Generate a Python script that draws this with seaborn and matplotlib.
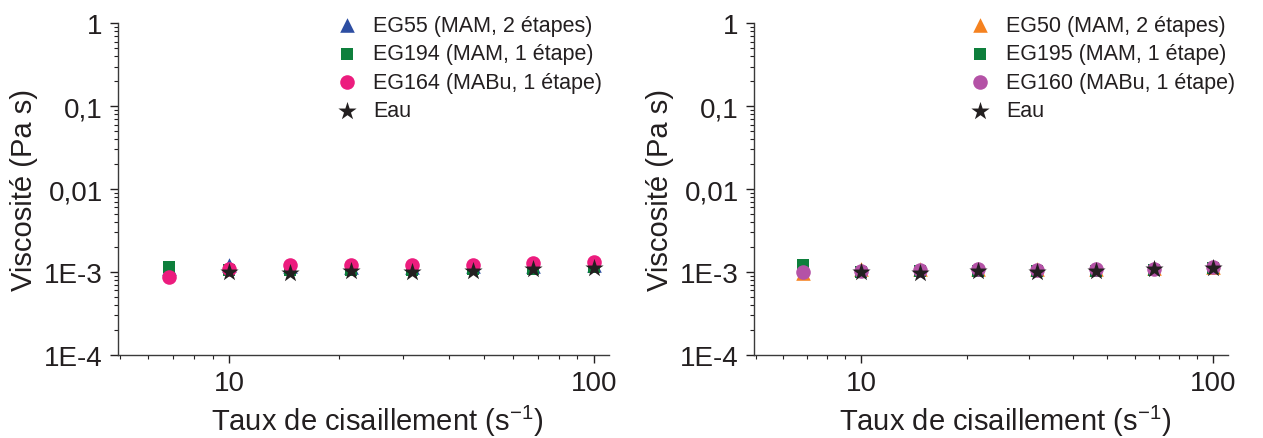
import numpy as np
import pandas as pd
import matplotlib
matplotlib.use("Agg")
import matplotlib.pyplot as plt
import matplotlib.ticker as mticker
import seaborn as sns

# shear rates (s^-1)
shear = [6.81, 10.0, 14.7, 21.5, 31.6, 46.4, 68.1, 100.0]
shear_water = [10.0, 14.7, 21.5, 31.6, 46.4, 68.1, 100.0]

# left panel viscosities (Pa s)
eg55 = [1.12e-3, 1.20e-3, 1.17e-3, 1.15e-3, 1.16e-3, 1.17e-3, 1.19e-3, 1.22e-3]
eg194 = [1.15e-3, 1.05e-3, 1.06e-3, 1.07e-3, 1.07e-3, 1.08e-3, 1.10e-3, 1.15e-3]
eg164 = [0.87e-3, 1.09e-3, 1.20e-3, 1.20e-3, 1.20e-3, 1.22e-3, 1.27e-3, 1.33e-3]
water_l = [1.00e-3, 0.97e-3, 1.03e-3, 1.00e-3, 1.04e-3, 1.08e-3, 1.13e-3]

# right panel viscosities (Pa s)
eg50 = [0.98e-3, 1.10e-3, 1.08e-3, 1.10e-3, 1.09e-3, 1.10e-3, 1.12e-3, 1.15e-3]
eg195 = [1.20e-3, 1.00e-3, 1.02e-3, 1.04e-3, 1.03e-3, 1.04e-3, 1.07e-3, 1.12e-3]
eg160 = [1.00e-3, 1.04e-3, 1.06e-3, 1.09e-3, 1.06e-3, 1.08e-3, 1.10e-3, 1.16e-3]
water_r = [1.00e-3, 0.98e-3, 1.04e-3, 1.00e-3, 1.04e-3, 1.08e-3, 1.13e-3]

labels_l = ["EG55 (MAM, 2 étapes)", "EG194 (MAM, 1 étape)", "EG164 (MABu, 1 étape)", "Eau"]
labels_r = ["EG50 (MAM, 2 étapes)", "EG195 (MAM, 1 étape)", "EG160 (MABu, 1 étape)", "Eau"]

y_ticks = [1e-4, 1e-3, 1e-2, 1e-1, 1]
y_ticklabels = ["1E-4", "1E-3", "0,01", "0,1", "1"]
x_ticks = [10, 100]
x_ticklabels = ["10", "100"]

sns.set_theme(style="ticks")
plt.rcParams["font.family"] = ["Liberation Sans", "DejaVu Sans"]
txt = "#231f20"
plt.rcParams.update({
    "text.color": txt, "axes.labelcolor": txt,
    "xtick.color": txt, "ytick.color": txt,
    "axes.edgecolor": "#3a3a3a",
})

fig = plt.figure(figsize=(12.63, 4.39), dpi=100)
ax1 = fig.add_axes([0.0934, 0.189, 0.389, 0.756])
ax2 = fig.add_axes([0.597, 0.189, 0.375, 0.756])


def panel(ax, series, labels, colors, leg_x, lab_dx):
    markers = ["^", "s", "o", "*"]
    sizes = [110, 75, 110, 190]
    for (xs, ys), lab, col, m, s in zip(series, labels, colors, markers, sizes):
        df = pd.DataFrame({"x": xs, "y": ys})
        sns.scatterplot(data=df, x="x", y="y", ax=ax, marker=m, color=col,
                        s=s, linewidth=0, label=lab)
    ax.set_xscale("log")
    ax.set_yscale("log")
    ax.set_xlim(4.95, 110)
    ax.set_ylim(1e-4, 1)
    ax.set_yticks(y_ticks)
    ax.set_yticklabels(y_ticklabels)
    ax.set_xticks(x_ticks)
    ax.set_xticklabels(x_ticklabels)
    ax.yaxis.set_minor_locator(mticker.LogLocator(base=10, subs=np.arange(2, 10), numticks=20))
    ax.xaxis.set_minor_locator(mticker.LogLocator(base=10, subs=np.arange(2, 10), numticks=20))
    ax.yaxis.set_minor_formatter(mticker.NullFormatter())
    ax.xaxis.set_minor_formatter(mticker.NullFormatter())
    ax.tick_params(which="major", length=6, width=1, labelsize=20, direction="out", pad=5)
    ax.tick_params(which="minor", length=3, width=0.8, direction="out")
    for sp in ["top", "right"]:
        ax.spines[sp].set_visible(False)
    for sp in ["left", "bottom"]:
        ax.spines[sp].set_linewidth(1)
    ax.set_xlabel(r"Taux de cisaillement (s$^{\mathregular{-1}}$)", fontsize=21)
    ax.xaxis.set_label_coords(0.5 + lab_dx, -0.145)
    ax.set_ylabel("Viscosité (Pa s)", fontsize=21, labelpad=4)
    ax.legend(loc="upper left", bbox_to_anchor=(leg_x, 1.025), frameon=False,
              fontsize=15.5, handletextpad=0.6, borderaxespad=0, borderpad=0,
              labelspacing=0.35, handlelength=1.2, markerscale=1.0)


panel(ax1,
      [(shear, eg55), (shear, eg194), (shear, eg164), (shear_water, water_l)],
      labels_l, ["#2d4ea2", "#0e7f3c", "#ec1c7e", "#231f20"], 0.44, 0.027)
panel(ax2,
      [(shear, eg50), (shear, eg195), (shear, eg160), (shear_water, water_r)],
      labels_r, ["#f58220", "#0e7f3c", "#b452a6", "#231f20"], 0.45, 0.03)

fig.savefig("out.png", dpi=100)
